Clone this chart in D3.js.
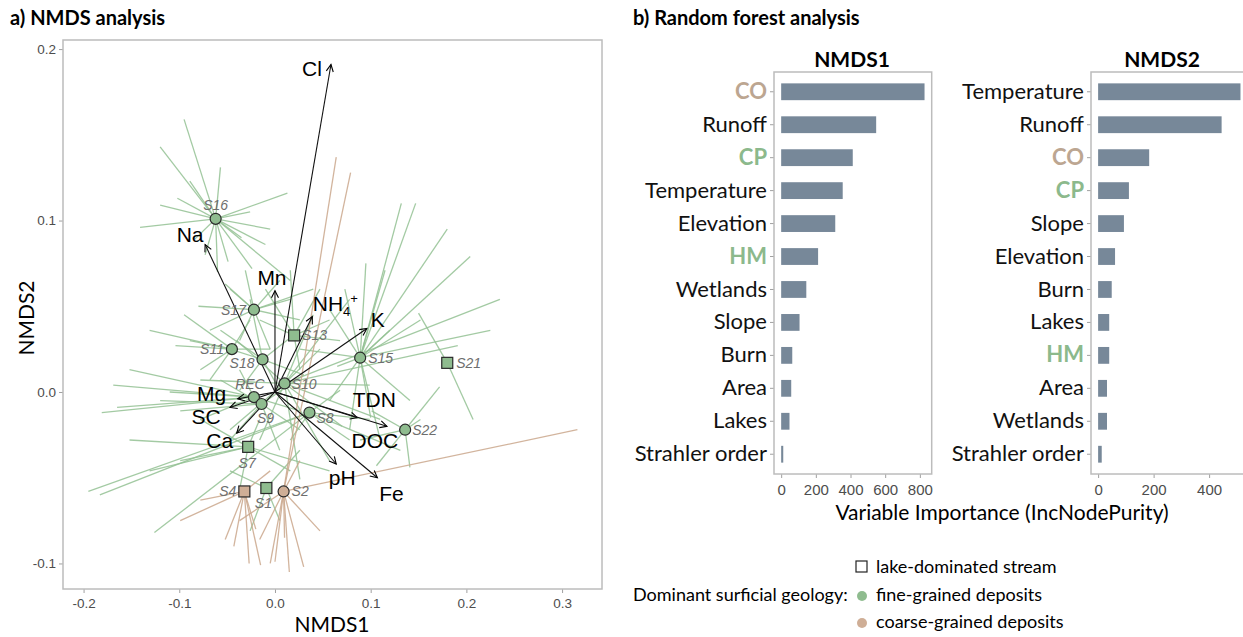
<!DOCTYPE html>
<html lang="en">
<head>
<meta charset="UTF-8">
<script src="https://d3js.org/d3.v7.min.js"></script>
<style>
  body { margin: 0; background: #fff; }
  .tick text { font-family: "Liberation Sans", Arial, sans-serif; }
  .tick line { stroke: #a0a0a0; }
  .domain { display: none; }
</style>
</head>
<body>
<svg id="chart" width="1243" height="637"></svg>
<script>
// ---------- data ----------
const nmdsXTicks = [-0.2, -0.1, 0.0, 0.1, 0.2, 0.3]
const nmdsYTicks = [-0.1, 0.0, 0.1, 0.2]

// site centroids
const siteNames = ["S16", "S17", "S13", "S11", "S18", "S15", "S21", "S10", "REC", "S9", "S8", "S22", "S7", "S4", "S1", "S2"]
const siteNMDS1 = [-0.062, -0.022, 0.020, -0.045, -0.013, 0.089, 0.180, 0.010, -0.022, -0.014, 0.036, 0.136, -0.028, -0.032, -0.009, 0.009]
const siteNMDS2 = [0.101, 0.048, 0.033, 0.025, 0.019, 0.020, 0.017, 0.005, -0.003, -0.007, -0.012, -0.022, -0.032, -0.058, -0.056, -0.058]
const siteGeology = ["fine", "fine", "fine", "fine", "fine", "fine", "fine", "fine", "fine", "fine", "fine", "fine", "fine", "coarse", "fine", "coarse"]
const siteLake = [false, false, true, false, false, false, true, false, false, false, false, false, true, true, true, false]

// individual samples: [site, NMDS1, NMDS2]
const sampleScores = [
  ["S16", -0.095, 0.159], ["S16", -0.120, 0.143], ["S16", -0.057, 0.131], ["S16", 0.013, 0.116],
  ["S16", -0.102, 0.113], ["S16", -0.005, 0.095], ["S16", -0.089, 0.123], ["S16", -0.026, 0.105],
  ["S16", -0.120, 0.109], ["S16", -0.049, 0.076], ["S16", -0.024, 0.072], ["S16", -0.073, 0.080],
  ["S16", -0.141, 0.096], ["S16", -0.010, 0.086], ["S16", -0.084, 0.089], ["S16", 0.016, 0.065],
  ["S16", -0.035, 0.090], ["S16", -0.060, 0.070],
  ["S17", -0.052, 0.063], ["S17", -0.031, 0.071], ["S17", 0.016, 0.054], ["S17", 0.026, 0.042],
  ["S17", -0.068, 0.036], ["S17", -0.047, 0.060], ["S17", -0.005, 0.025], ["S17", -0.037, 0.030],
  ["S17", 0.005, 0.065], ["S17", -0.080, 0.050], ["S17", 0.040, 0.060],
  ["S13", 0.016, 0.071], ["S13", 0.057, 0.042], ["S13", 0.047, 0.060], ["S13", -0.016, 0.042],
  ["S13", 0.026, 0.013], ["S13", 0.068, 0.030], ["S13", -0.010, 0.060],
  ["S11", -0.089, 0.030], ["S11", -0.078, 0.013], ["S11", -0.026, 0.042], ["S11", -0.005, 0.025],
  ["S11", -0.104, 0.027], ["S11", -0.068, 0.007], ["S11", -0.131, 0.036], ["S11", -0.095, 0.045],
  ["S18", -0.057, 0.036], ["S18", 0.026, 0.036], ["S18", -0.037, 0.001], ["S18", 0.005, 0.001],
  ["S18", -0.047, 0.025], ["S18", -0.026, 0.054], ["S18", 0.030, 0.010],
  ["S15", 0.132, 0.110], ["S15", 0.147, 0.110], ["S15", 0.115, 0.071], ["S15", 0.180, 0.095],
  ["S15", 0.204, 0.079], ["S15", 0.073, 0.060], ["S15", 0.057, 0.048], ["S15", 0.120, 0.036],
  ["S15", 0.152, 0.042], ["S15", 0.057, -0.005], ["S15", 0.078, -0.022], ["S15", 0.110, -0.028],
  ["S15", 0.141, -0.005], ["S15", 0.026, 0.025], ["S15", 0.225, 0.036], ["S15", 0.095, 0.075],
  ["S15", 0.065, 0.015], ["S15", 0.100, -0.015],
  ["S21", 0.150, 0.046], ["S21", 0.207, -0.016],
  ["S10", 0.191, 0.027], ["S10", 0.235, 0.054], ["S10", 0.078, 0.054], ["S10", 0.057, -0.040],
  ["S10", 0.026, -0.051], ["S10", 0.110, -0.016], ["S10", -0.047, -0.022], ["S10", -0.078, 0.007],
  ["S10", 0.047, 0.025], ["S10", -0.016, -0.028], ["S10", 0.099, 0.004], ["S10", 0.040, 0.045],
  ["S10", -0.040, 0.030], ["S10", 0.070, -0.020],
  ["REC", -0.181, -0.012], ["REC", -0.165, -0.009], ["REC", -0.169, 0.004], ["REC", -0.152, 0.013],
  ["REC", -0.078, -0.016], ["REC", 0.026, -0.011], ["REC", -0.037, 0.013], ["REC", -0.110, 0.000],
  ["S9", -0.099, -0.011], ["S9", -0.047, -0.028], ["S9", 0.026, -0.022], ["S9", 0.005, -0.034],
  ["S9", -0.057, 0.007], ["S9", -0.120, -0.005], ["S9", 0.030, 0.010],
  ["S8", -0.195, -0.058], ["S8", -0.183, -0.060], ["S8", -0.126, -0.082], ["S8", 0.078, -0.028],
  ["S8", 0.068, 0.001], ["S8", 0.099, -0.016], ["S8", 0.016, -0.028], ["S8", 0.131, -0.034],
  ["S22", 0.172, 0.003], ["S22", 0.141, -0.044], ["S22", 0.106, -0.043], ["S22", 0.101, -0.011],
  ["S22", 0.152, -0.016], ["S22", 0.089, -0.028],
  ["S7", -0.152, -0.028], ["S7", -0.037, -0.057], ["S7", 0.057, -0.046], ["S7", 0.016, -0.046],
  ["S7", -0.016, -0.016], ["S7", -0.099, -0.040], ["S7", -0.078, -0.016], ["S7", -0.131, -0.046],
  ["S1", -0.047, -0.046], ["S1", 0.026, -0.034], ["S1", -0.026, -0.081], ["S1", 0.005, -0.075],
  ["S4", -0.043, -0.090], ["S4", -0.027, -0.100], ["S4", -0.015, -0.101], ["S4", -0.099, -0.075],
  ["S4", -0.078, -0.063], ["S4", -0.005, -0.046], ["S4", -0.052, -0.086], ["S4", -0.020, -0.080],
  ["S2", 0.064, 0.137], ["S2", 0.079, 0.128], ["S2", 0.316, -0.022], ["S2", 0.000, -0.099],
  ["S2", 0.015, -0.105], ["S2", 0.030, -0.102], ["S2", 0.047, -0.081], ["S2", -0.016, -0.086],
  ["S2", 0.026, -0.040], ["S2", -0.037, -0.075], ["S2", -0.005, -0.100], ["S2", 0.010, -0.085]
]

// fitted environmental vectors
const vectorNames = ["Cl", "Na", "Mn", "NH4+", "K", "Mg", "SC", "Ca", "TDN", "DOC", "pH", "Fe"]
const vectorNMDS1 = [0.0585, -0.073, 0.000, 0.039, 0.096, -0.039, -0.047, -0.040, 0.086, 0.117, 0.064, 0.107]
const vectorNMDS2 = [0.191, 0.086, 0.059, 0.044, 0.037, -0.004, -0.009, -0.024, -0.015, -0.020, -0.042, -0.050]

// random forest importance
const rfVars1 = ["CO", "Runoff", "CP", "Temperature", "Elevation", "HM", "Wetlands", "Slope", "Burn", "Area", "Lakes", "Strahler order"]
const rfImp1 = [827, 548, 413, 355, 312, 213, 145, 106, 64, 58, 48, 12]
const rfVars2 = ["Temperature", "Runoff", "CO", "CP", "Slope", "Elevation", "Burn", "Lakes", "HM", "Area", "Wetlands", "Strahler order"]
const rfImp2 = [513, 445, 184, 111, 93, 61, 49, 40, 40, 32, 32, 13]
const rfTicks1 = [0, 200, 400, 600, 800]
const rfTicks2 = [0, 200, 400]

// ---------- styles / layout ----------
const GREEN = "#8fbc8f", BROWN = "#cfae96"
const LINE_GREEN = "#93c193", LINE_BROWN = "#caa78c"
const FRAME = "#bcbcbc"
const TICKTXT = "#4d4d4d"
const calibri = "Lato, 'Open Sans', sans-serif"
const arial = "'Liberation Sans', Arial, sans-serif"
const geoColor = { CO: "#bca691", CP: "#8cb98c", HM: "#8cb98c" }

// label offsets in px relative to the arrow tip (text centre)
const vecLabel = {
  "Cl": [-19, 4], "Na": [-15, -10], "Mn": [-3, -13], "NH4+": [23, -13], "K": [11, -9],
  "Mg": [-26, -5], "SC": [-24, 9], "Ca": [-17, 7], "TDN": [17, -18], "DOC": [-12, 14],
  "pH": [6, 13], "Fe": [14, 16]
}
// site label placement: [dx, dy, anchor]
const siteLabel = {
  S16: [0, -14, "middle"], S17: [-8, 0, "end"], S13: [8, 0, "start"], S11: [-8, 0, "end"],
  S18: [-8, 4, "end"], S15: [8, 0, "start"], S21: [9, 0, "start"], S10: [7, 1, "start"],
  REC: [-4, -13, "middle"], S9: [4, 14, "middle"], S8: [7, 6, "start"], S22: [7, 0, "start"],
  S7: [-1, 16, "middle"], S4: [-8, 0, "end"], S1: [-3, 15, "middle"], S2: [8, 0, "start"]
}

const svg = d3.select("#chart")

// ---------- panel a: NMDS ----------
const x = d3.scaleLinear().domain([-0.2215, 0.3417]).range([63, 602])
const y = d3.scaleLinear().domain([-0.1149, 0.2053]).range([589, 40])

svg.append("text").attr("x", 10).attr("y", 25)
  .attr("font-family", calibri).attr("font-weight", "bold").attr("font-size", 20)
  .text("a)  NMDS analysis")

const gx = svg.append("g").attr("transform", "translate(0,589)")
  .call(d3.axisBottom(x).tickValues(nmdsXTicks).tickSize(4).tickFormat(d => d.toFixed(1)))
gx.selectAll("text").attr("font-size", 13.5).attr("dy", "0.9em").style("fill", TICKTXT)
const gy = svg.append("g").attr("transform", "translate(63,0)")
  .call(d3.axisLeft(y).tickValues(nmdsYTicks).tickSize(4).tickFormat(d => d.toFixed(1)))
gy.selectAll("text").attr("font-size", 13.5).style("fill", TICKTXT)

svg.append("text").attr("x", 332).attr("y", 632).attr("text-anchor", "middle")
  .attr("font-family", calibri).attr("font-size", 21).text("NMDS1")
svg.append("text").attr("transform", "translate(34,318) rotate(-90)").attr("text-anchor", "middle")
  .attr("font-family", calibri).attr("font-size", 21).text("NMDS2")

const plotA = svg.append("g")
const siteIndex = {}
siteNames.forEach((s, i) => siteIndex[s] = i)

// spider lines (green first, brown on top)
const spiderOrder = sampleScores.slice().sort((a, b) =>
  (siteGeology[siteIndex[a[0]]] === "coarse") - (siteGeology[siteIndex[b[0]]] === "coarse"))
plotA.selectAll("line.spider").data(spiderOrder).enter().append("line")
  .attr("class", "spider")
  .attr("x1", d => x(siteNMDS1[siteIndex[d[0]]]))
  .attr("y1", d => y(siteNMDS2[siteIndex[d[0]]]))
  .attr("x2", d => x(d[1]))
  .attr("y2", d => y(d[2]))
  .attr("stroke", d => siteGeology[siteIndex[d[0]]] === "coarse" ? LINE_BROWN : LINE_GREEN)
  .attr("stroke-width", 1.3)
  .attr("stroke-opacity", 0.85)

// arrows
svg.append("defs").append("marker")
  .attr("id", "arr").attr("viewBox", "-8 -5 10 10").attr("refX", 0).attr("refY", 0)
  .attr("markerWidth", 10).attr("markerHeight", 10).attr("markerUnits", "userSpaceOnUse")
  .attr("orient", "auto")
  .append("path").attr("d", "M-7,-3.5L0,0L-7,3.5").attr("fill", "none").attr("stroke", "#000").attr("stroke-width", 1.1)

plotA.selectAll("line.vec").data(vectorNames).enter().append("line")
  .attr("class", "vec")
  .attr("x1", x(0)).attr("y1", y(0))
  .attr("x2", (d, i) => x(vectorNMDS1[i]))
  .attr("y2", (d, i) => y(vectorNMDS2[i]))
  .attr("stroke", "#111").attr("stroke-width", 1.1)
  .attr("marker-end", "url(#arr)")

// site points
const pts = plotA.selectAll("g.site").data(siteNames).enter().append("g")
  .attr("transform", (d, i) => `translate(${x(siteNMDS1[i])},${y(siteNMDS2[i])})`)
pts.each(function (d, i) {
  const g = d3.select(this)
  const fill = siteGeology[i] === "coarse" ? BROWN : GREEN
  if (siteLake[i]) {
    g.append("rect").attr("x", -5.5).attr("y", -5.5).attr("width", 11).attr("height", 11)
      .attr("fill", fill).attr("stroke", "#2a2a2a").attr("stroke-width", 1.2)
  } else {
    g.append("circle").attr("r", 5.5).attr("fill", fill).attr("stroke", "#2a2a2a").attr("stroke-width", 1.2)
  }
  const lp = siteLabel[d]
  g.append("text").attr("x", lp[0]).attr("y", lp[1]).attr("dy", "0.35em")
    .attr("text-anchor", lp[2])
    .attr("font-family", arial).attr("font-style", "italic").attr("font-size", 14)
    .attr("fill", "#6e6e6e").text(d)
})

// vector labels
plotA.selectAll("text.vlab").data(vectorNames).enter().append("text")
  .attr("class", "vlab")
  .attr("x", (d, i) => x(vectorNMDS1[i]) + vecLabel[d][0])
  .attr("y", (d, i) => y(vectorNMDS2[i]) + vecLabel[d][1])
  .attr("dy", "0.36em").attr("text-anchor", "middle")
  .attr("font-family", arial).attr("font-size", 21).attr("fill", "#000")
  .each(function (d) {
    const t = d3.select(this)
    if (d === "NH4+") {
      t.append("tspan").text("NH")
      t.append("tspan").attr("font-size", 13).attr("dy", 5).text("4")
      t.append("tspan").attr("font-size", 13).attr("dy", -13).text("+")
    } else t.text(d)
  })

// frame
svg.append("rect").attr("x", 63).attr("y", 40).attr("width", 539).attr("height", 549)
  .attr("fill", "none").attr("stroke", FRAME).attr("stroke-width", 1.5)

// ---------- panel b: random forest ----------
svg.append("text").attr("x", 633).attr("y", 25)
  .attr("font-family", calibri).attr("font-weight", "bold").attr("font-size", 20)
  .text("b)  Random forest analysis")

function barPanel(vars, vals, ticks, left, right, title, titleX) {
  const max = d3.max(vals)
  const xs = d3.scaleLinear().domain([-0.05 * max, 1.05 * max]).range([left, right])
  const ys = d3.scaleBand().domain(vars).range([72, 474]).paddingInner(0.49).paddingOuter(0.345)

  svg.append("text").attr("x", titleX).attr("y", 67).attr("text-anchor", "middle")
    .attr("font-family", calibri).attr("font-weight", "bold").attr("font-size", 21).text(title)

  svg.append("g").selectAll("rect").data(vars).enter().append("rect")
    .attr("x", xs(0)).attr("y", d => ys(d))
    .attr("width", (d, i) => xs(vals[i]) - xs(0)).attr("height", ys.bandwidth())
    .attr("fill", "#778899")

  const ga = svg.append("g").attr("transform", `translate(0,474)`)
    .call(d3.axisBottom(xs).tickValues(ticks).tickSize(4))
  ga.selectAll("text").attr("font-size", 15).attr("dy", "0.95em").style("fill", TICKTXT)

  const gl = svg.append("g").attr("transform", `translate(${left},0)`)
    .call(d3.axisLeft(ys).tickSize(4).tickPadding(3))
  gl.selectAll("text")
    .style("font-family", calibri).attr("font-size", 22)
    .style("fill", d => geoColor[d] || "#111")
    .attr("font-weight", d => geoColor[d] ? "bold" : "normal")

  svg.append("rect").attr("x", left).attr("y", 72).attr("width", right - left).attr("height", 402)
    .attr("fill", "none").attr("stroke", FRAME).attr("stroke-width", 1.5)
}

barPanel(rfVars1, rfImp1, rfTicks1, 774, 931.7, "NMDS1", 852)
barPanel(rfVars2, rfImp2, rfTicks2, 1091, 1247.6, "NMDS2", 1162)

svg.append("text").attr("x", 1002).attr("y", 520).attr("text-anchor", "middle")
  .attr("font-family", calibri).attr("font-size", 21).text("Variable Importance (IncNodePurity)")

// ---------- legend ----------
const leg = svg.append("g").attr("font-family", calibri).attr("font-size", 18)
leg.append("text").attr("x", 633).attr("y", 595).attr("dy", "0.35em").text("Dominant surficial geology:")
leg.append("rect").attr("x", 856).attr("y", 561).attr("width", 11).attr("height", 11)
  .attr("fill", "#fff").attr("stroke", "#222").attr("stroke-width", 1.2)
leg.append("circle").attr("cx", 862).attr("cy", 596).attr("r", 5).attr("fill", GREEN)
leg.append("circle").attr("cx", 862).attr("cy", 623).attr("r", 5).attr("fill", BROWN)
leg.append("text").attr("x", 876).attr("y", 567).attr("dy", "0.35em").text("lake-dominated stream")
leg.append("text").attr("x", 876).attr("y", 595).attr("dy", "0.35em").text("fine-grained deposits")
leg.append("text").attr("x", 876).attr("y", 622).attr("dy", "0.35em").text("coarse-grained deposits")
</script>
</body>
</html>
